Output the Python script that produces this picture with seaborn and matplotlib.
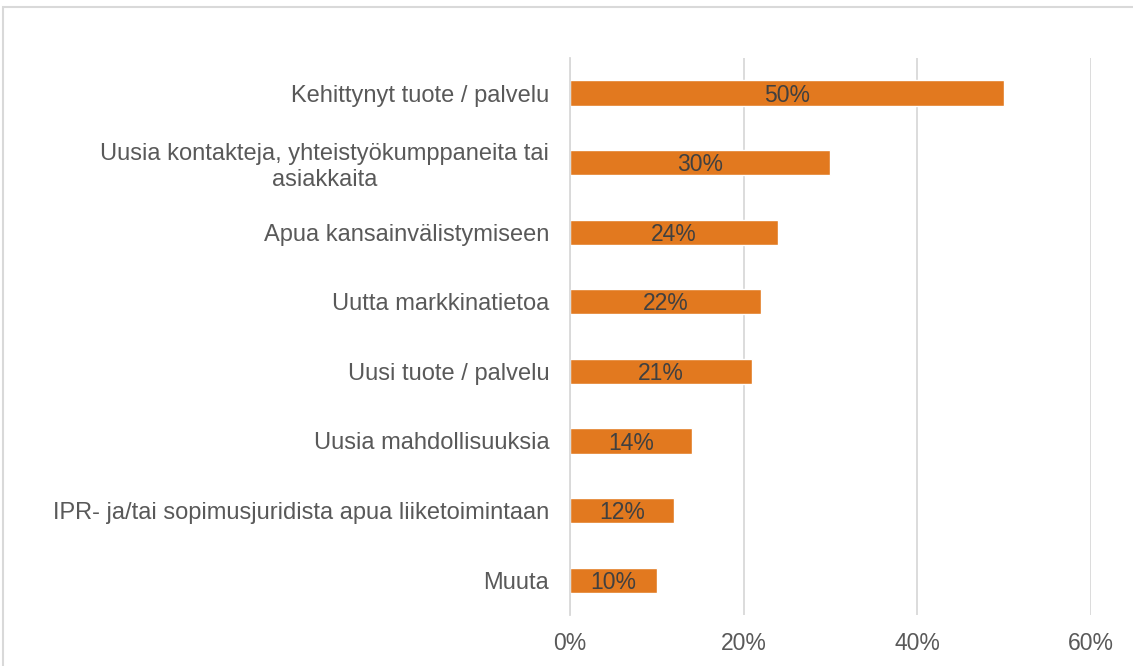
import matplotlib
matplotlib.use("Agg")
import matplotlib.pyplot as plt
import seaborn as sns
import pandas as pd
from matplotlib.patches import Rectangle

categories = [
    "Kehittynyt tuote / palvelu",
    "Uusia kontakteja, yhteistyökumppaneita tai\nasiakkaita",
    "Apua kansainvälistymiseen",
    "Uutta markkinatietoa",
    "Uusi tuote / palvelu",
    "Uusia mahdollisuuksia",
    "IPR- ja/tai sopimusjuridista apua liiketoimintaan",
    "Muuta",
]
values = [50, 30, 24, 22, 21, 14, 12, 10]
xticks = [0, 20, 40, 60]

sns.set_theme(style="white")
plt.rcParams["font.family"] = ["Liberation Sans", "DejaVu Sans"]

df = pd.DataFrame({"cat": categories, "val": values})

fig = plt.figure(figsize=(11.33, 6.66), dpi=100)
ax = fig.add_axes([0.5031, 0.0766, 0.9629 - 0.5031, 0.9126 - 0.0766])

bar_color = "#E2791F"
sns.barplot(data=df, x="val", y="cat", color=bar_color, width=0.36,
            saturation=1, ax=ax, orient="h")

ax.set_xlim(0, 60)
ax.set_ylim(7.5, -0.5)
ax.set_xticks(xticks)
ax.set_xticklabels([f"{t}%" for t in xticks])
ax.set_xlabel("")
ax.set_ylabel("")

for s in ["top", "right", "bottom"]:
    ax.spines[s].set_visible(False)
ax.spines["left"].set_color("#D9D9D9")
ax.spines["left"].set_linewidth(1.3)
ax.xaxis.grid(True, color="#D9D9D9", linewidth=1.3)
ax.set_axisbelow(True)

ax.tick_params(axis="x", length=0, pad=12, labelsize=16.5, labelcolor="#595959")
ax.tick_params(axis="y", length=0, pad=15, labelsize=17, labelcolor="#595959")
for lab in ax.get_yticklabels():
    lab.set_multialignment("center")
    lab.set_linespacing(1.2)

for i, v in enumerate(values):
    ax.text(v / 2, i + 0.03, f"{v}%", ha="center", va="center", fontsize=16.5,
            color="#404040")

fig.patches.append(Rectangle((3 / 1133, -0.1), 1.2, 1 - 7 / 666 + 0.1,
                             transform=fig.transFigure, fill=False,
                             edgecolor="#D9D9D9", linewidth=1.5))

fig.savefig("out.png", dpi=100)
